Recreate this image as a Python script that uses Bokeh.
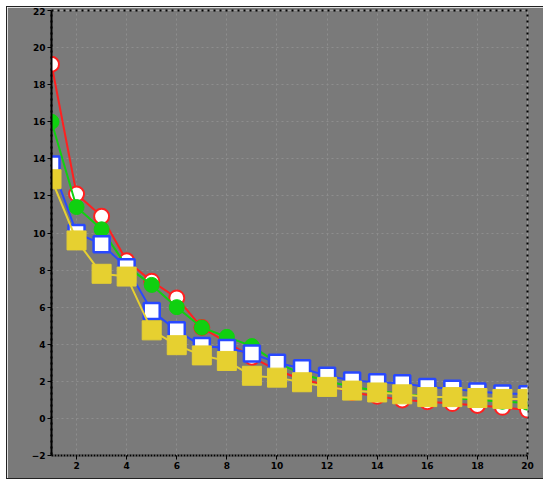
from bokeh.plotting import figure
from bokeh.embed import file_html
from bokeh.resources import INLINE
from bokeh.models import FixedTicker, Range1d

x = list(range(1, 21))
red = [19.1, 12.1, 10.9, 8.5, 7.4, 6.5, 4.9, 4.1, 3.3, 2.6, 2.1, 1.8, 1.4, 1.2, 1.0, 0.9, 0.8, 0.7, 0.6, 0.45]
green = [16.0, 11.4, 10.2, 8.2, 7.2, 6.0, 4.9, 4.4, 3.9, 3.0, 2.4, 2.0, 1.7, 1.5, 1.3, 1.2, 1.1, 1.0, 0.9, 0.85]
blue = [13.7, 10.0, 9.4, 8.15, 5.8, 4.75, 3.9, 3.8, 3.5, 3.0, 2.7, 2.3, 2.05, 1.95, 1.9, 1.7, 1.6, 1.45, 1.35, 1.3]
yellow = [12.9, 9.6, 7.8, 7.65, 4.75, 3.95, 3.4, 3.1, 2.3, 2.2, 1.95, 1.7, 1.5, 1.4, 1.3, 1.15, 1.15, 1.1, 1.05, 1.05]

x_ticks = [2, 4, 6, 8, 10, 12, 14, 16, 18, 20]
y_ticks = [-2, 0, 2, 4, 6, 8, 10, 12, 14, 16, 18, 20, 22]

GRAY = "#7a7a7a"

p = figure(width=536, height=471, output_backend="svg", toolbar_location=None,
           x_range=Range1d(1, 20), y_range=Range1d(-2, 22),
           background_fill_color=GRAY, border_fill_color=GRAY,
           min_border_left=44, min_border_right=16, min_border_top=3, min_border_bottom=23)
p.margin = (7, 0, 0, 7)
p.styles = {"outline": "1px solid #222222"}
p.outline_line_color = "black"
p.outline_line_dash = "dotted"
p.outline_line_width = 2

p.xaxis.ticker = FixedTicker(ticks=x_ticks)
p.yaxis.ticker = FixedTicker(ticks=y_ticks)
for ax in (p.xaxis[0], p.yaxis[0]):
    ax.major_label_text_font = "DejaVu Sans"
    ax.major_label_text_font_size = "9px"
    ax.major_label_text_font_style = "bold"
    ax.major_label_text_color = "black"
    ax.minor_tick_line_color = None
    ax.major_tick_line_color = "black"
    ax.major_tick_out = 4
    ax.major_tick_in = 0
    ax.major_label_standoff = 2
p.yaxis.axis_line_color = "black"
p.yaxis.axis_line_width = 2
p.xaxis.axis_line_color = "black"
p.xaxis.axis_line_width = 2
p.xaxis.axis_line_dash = "dotted"

p.grid.grid_line_color = "#8e8e8e"
p.grid.grid_line_dash = "2 3"
p.grid.grid_line_width = 1

p.line(x, red, line_color="#ff2020", line_width=2)
p.scatter(x, red, marker="circle", size=15, fill_color="white", line_color="#ff2020", line_width=2)

p.line(x, green, line_color="#10d010", line_width=2)
p.scatter(x, green, marker="circle", size=15, fill_color="#10d010", line_color="#10d010", line_width=1)

p.line(x, blue, line_color="#2848ff", line_width=2)
p.scatter(x, blue, marker="square", size=16, fill_color="white", line_color="#2848ff", line_width=2.5)

p.line(x, yellow, line_color="#e6d030", line_width=2)
p.scatter(x, yellow, marker="square", size=19, fill_color="#e6d030", line_color="#e6d030", line_width=1)

open("out.html", "w").write(file_html(p, INLINE))
